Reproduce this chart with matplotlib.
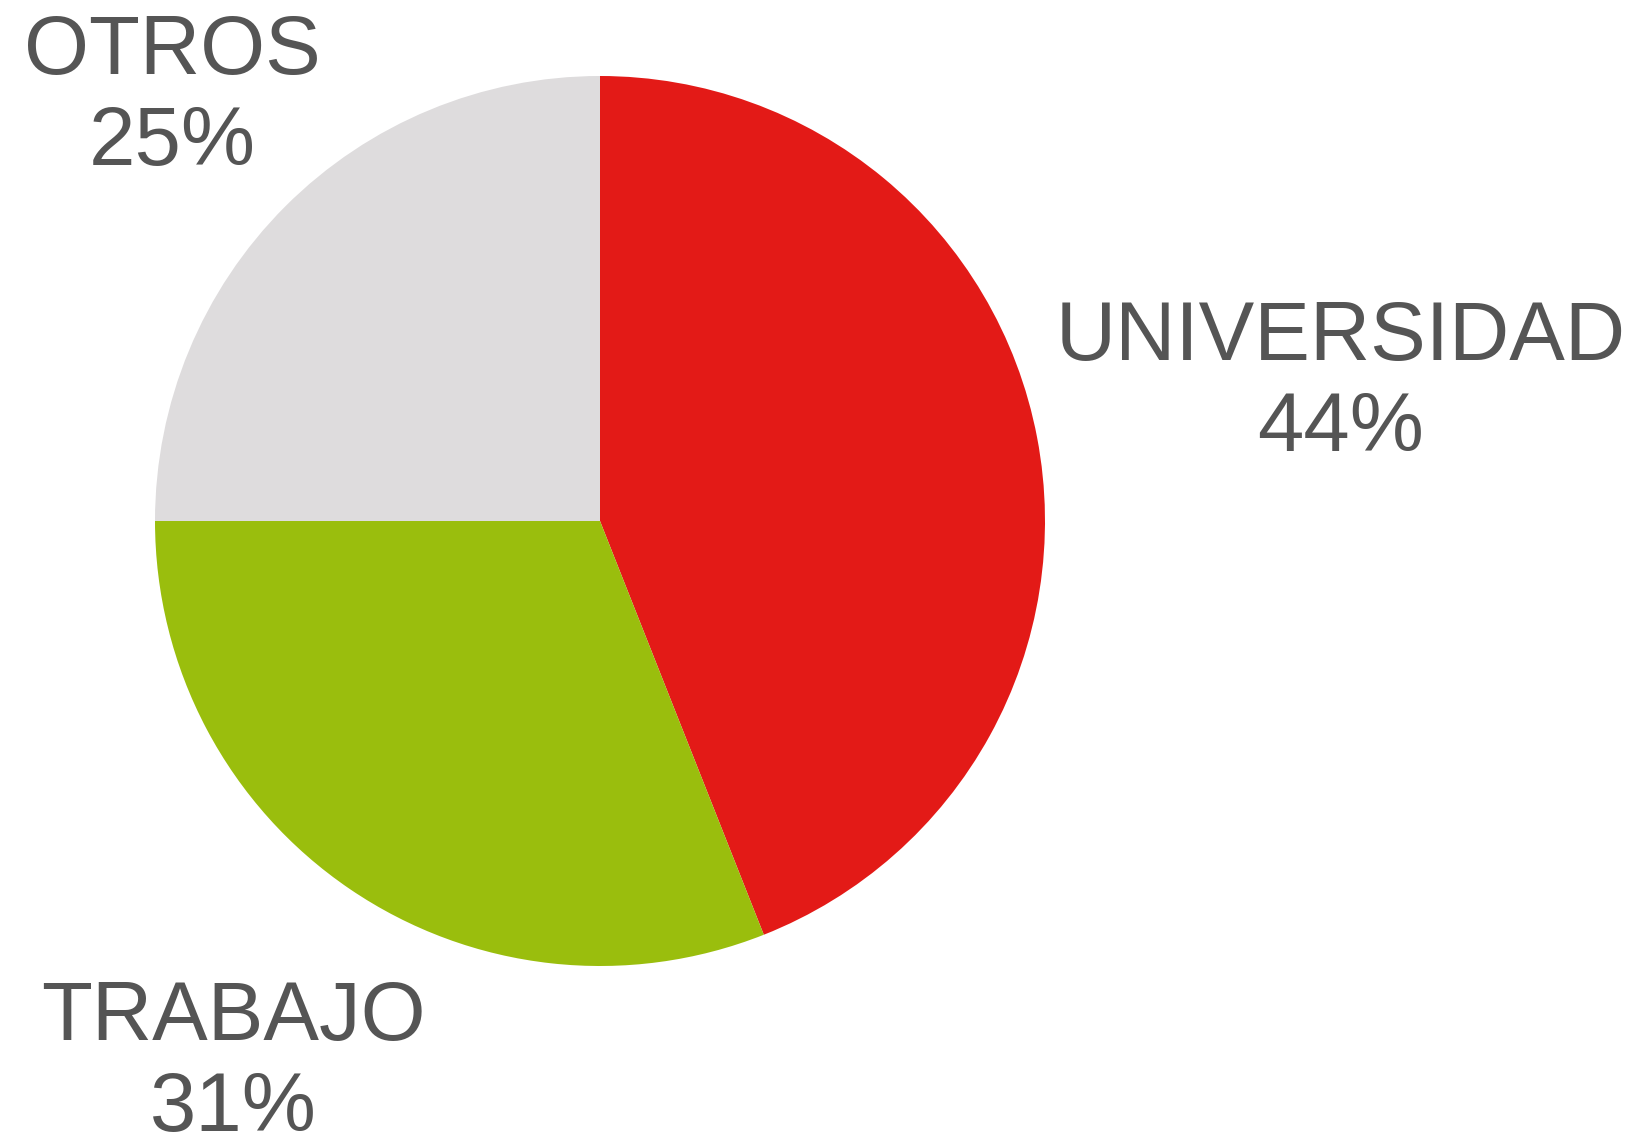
import numpy as np
import matplotlib.pyplot as plt

# data
labels = ["UNIVERSIDAD", "TRABAJO", "OTROS"]
values = [44, 31, 25]
colors = ["#E31A17", "#9ABE0D", "#DEDCDD"]

# label distance from centre (multiples of radius)
label_dist = [1.695, 1.464, 1.358]

plt.rcParams['font.family'] = ['Liberation Sans', 'DejaVu Sans']

W, H = 1633, 1141
fig = plt.figure(figsize=(W / 100, H / 100), dpi=100)
ax = fig.add_axes([0, 0, 1, 1])

cx, cy, r = 600, 620, 445
wedges, _ = ax.pie(values, colors=colors, startangle=90, counterclock=False,
                   center=(cx, cy), radius=r,
                   wedgeprops=dict(linewidth=0, antialiased=True))

for w, lab, v, d in zip(wedges, labels, values, label_dist):
    ang = np.deg2rad((w.theta1 + w.theta2) / 2)
    x = cx + d * r * np.cos(ang)
    y = cy + d * r * np.sin(ang) - 4
    ax.text(x, y, "%s\n%d%%" % (lab, v), ha='center', va='center',
            multialignment='center', fontsize=60, color='#555555',
            linespacing=1.21)

ax.set_xlim(0, W)
ax.set_ylim(0, H)
ax.set_aspect('equal')
ax.axis('off')

fig.savefig('out.png', dpi=100)
